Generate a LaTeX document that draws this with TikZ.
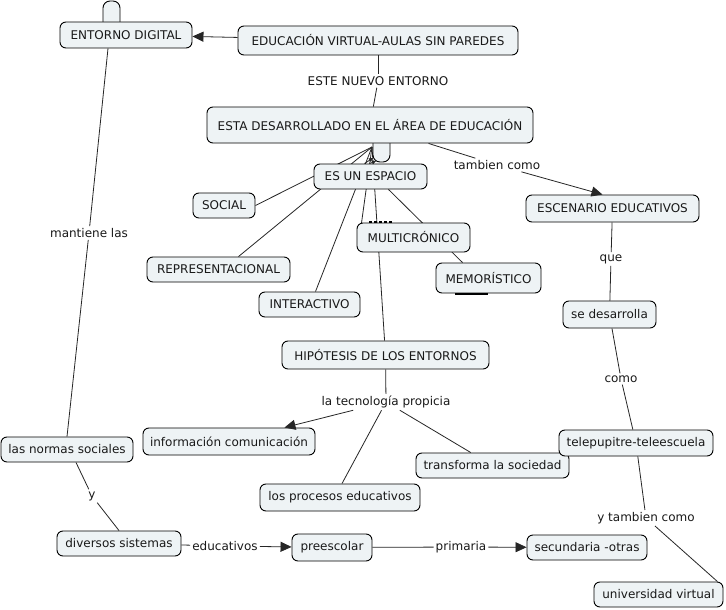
\documentclass[tikz,border=0pt]{standalone}
\usepackage{fontspec}
\setmainfont{DejaVu Sans}
\usetikzlibrary{arrows.meta}
\definecolor{boxfill}{RGB}{238,243,245}
\definecolor{txt}{RGB}{25,25,25}
\tikzset{
  concept/.style={draw=black, fill=boxfill, rounded corners=6pt, line width=0.9pt, inner sep=0pt, font=\fontsize{12}{14}\selectfont, text=txt},
  linkphr/.style={fill=white, inner xsep=2pt, inner ysep=2pt, font=\fontsize{12}{14}\selectfont, text=txt},
  conn/.style={draw=black!85, line width=0.8pt},
  arr/.style={conn, -{Triangle[length=11pt,width=10pt]}},
  smallarr/.style={conn, -{Triangle[length=4pt,width=4pt]}},
  tabshape/.style={draw=black, fill=boxfill, line width=0.9pt},
}
\begin{document}
\begin{tikzpicture}[x=1pt,y=-1pt]
\useasboundingbox (0,0) rectangle (726,610);
\fill[white] (0,0) rectangle (726,610);

% tabs (drawn under the boxes)
\draw[tabshape, rounded corners=7pt] (103,30) -- (103,1) -- (120,1) -- (120,30);
\coordinate (hub) at (372,147);
\coordinate (multitop) at (361.5,223);
\coordinate (tabin1) at (373,158);
\coordinate (tabin2) at (376,161);

% concept boxes
\node[concept, minimum width=132pt, minimum height=26pt] (ent) at (126,35) {ENTORNO DIGITAL};
\node[concept, minimum width=280pt, minimum height=29pt] (edu) at (378,40.5) {EDUCACIÓN VIRTUAL-AULAS SIN PAREDES};
\node[concept, minimum width=173pt, minimum height=27pt] (escen) at (612.5,208.5) {ESCENARIO EDUCATIVOS};
\node[concept, minimum width=62pt, minimum height=25pt] (social) at (224,205.5) {SOCIAL};
\node[concept, minimum width=143pt, minimum height=25pt] (repr) at (218.5,269.5) {REPRESENTACIONAL};
\node[concept, minimum width=101pt, minimum height=25pt] (inter) at (309.5,304.5) {INTERACTIVO};
\node[concept, minimum width=105pt, minimum height=30pt] (memo) at (488.5,278) {MEMORÍSTICO};
\node[concept, minimum width=207pt, minimum height=28pt] (hipo) at (385.5,355) {HIPÓTESIS DE LOS ENTORNOS};
\node[concept, minimum width=172pt, minimum height=27pt] (info) at (229,441.5) {información comunicación};
\node[concept, minimum width=153pt, minimum height=25pt] (transf) at (492.5,465.5) {transforma la sociedad};
\node[concept, minimum width=160pt, minimum height=27pt] (proc) at (340,497.5) {los procesos educativos};
\node[concept, minimum width=93pt, minimum height=27pt] (desarr) at (609.5,314.5) {se desarrolla};
\node[concept, minimum width=154pt, minimum height=26pt] (tele) at (636,443) {telepupitre-teleescuela};
\node[concept, minimum width=129pt, minimum height=25pt] (univ) at (658.5,594.5) {universidad virtual};
\node[concept, minimum width=120pt, minimum height=25pt] (secu) at (587,547.5) {secundaria -otras};
\node[concept, minimum width=80pt, minimum height=27pt] (pree) at (332,547.5) {preescolar};
\node[concept, minimum width=124pt, minimum height=25pt] (div) at (119,543.5) {diversos sistemas};
\node[concept, minimum width=132pt, minimum height=25pt] (normas) at (67,449.5) {las normas sociales};

% linking phrases
\node[linkphr] (este) at (378,81) {ESTE NUEVO ENTORNO};
\node[linkphr] (tamb) at (497,165) {tambien como};
\node[linkphr] (que) at (611,259) {que};
\node[linkphr] (como) at (621,379) {como};
\node[linkphr] (ytamb) at (646,518) {y tambien como};
\node[linkphr] (prim) at (461,547) {primaria};
\node[linkphr] (educ) at (225,546) {educativos};
\node[linkphr] (yy) at (92,496) {y};
\node[linkphr] (mant) at (89,233) {mantiene las};
\node[linkphr] (tecno) at (386,402) {la tecnología propicia};

% hub connectors (under the boxes drawn later)
\draw[conn] (hub) -- (social.east);
\draw[conn] (hub) -- ([xshift=20pt]repr.north);
\draw[conn] (hub) -- ([xshift=6pt]inter.north);
\draw[conn] (hub) -- (hipo);
\draw[conn] (hub) -- (multitop);

% tab below ESTA
\draw[tabshape, rounded corners=7pt] (373,130) -- (373,162) -- (390,162) -- (390,130);
\node[concept, minimum width=326pt, minimum height=36pt] (esta) at (370,125) {ESTA DESARROLLADO EN EL ÁREA DE EDUCACIÓN};
\node[concept, minimum width=113pt, minimum height=25pt] (esp) at (370.5,176.5) {ES UN ESPACIO};
\draw[smallarr] ([xshift=-6pt]esp.north) -- (tabin1);
\draw[smallarr] ([xshift=-1pt]esp.north) -- (tabin2);
\draw[conn] ([xshift=18pt]esp.south) -- ([xshift=-26pt]memo.north);
\node[concept, minimum width=113pt, minimum height=29pt] (multi) at (413.5,237.5) {MULTICRÓNICO};
\draw[black, line width=1.2pt, dash pattern=on 3pt off 2pt] (369,222) -- (392,222);
\draw[black, line width=1.8pt] (455,294) -- (488,294);

% connectors
\draw[arr] (edu) -- (ent);
\draw[conn] (edu) -- (este);
\draw[conn] (este) -- (esta);
\draw[conn] (esta) -- (tamb);
\draw[arr] (tamb) -- ([xshift=-10pt]escen.north);
\draw[conn] (escen) -- (que);
\draw[conn] (que) -- (desarr);
\draw[conn] (desarr) -- (como);
\draw[conn] (como) -- (tele);
\draw[conn] (tele) -- (ytamb);
\draw[conn] (ytamb) -- ([xshift=-6pt]univ.north east);
\draw[conn] ([xshift=-18pt]ent.south) -- (mant);
\draw[conn] (mant) -- (normas.north);
\draw[conn] ([xshift=9pt]normas.south) -- (yy);
\draw[conn] (yy) -- (div.north);
\draw[conn] (div) -- (educ);
\draw[arr] (educ) -- (pree);
\draw[conn] (pree) -- (prim);
\draw[arr] (prim) -- (secu);
\draw[conn] (hipo) -- (tecno);
\draw[arr] (tecno) -- (info);
\draw[conn] (tecno) -- ([xshift=2pt]proc.north);
\draw[conn] (tecno) -- (transf);
\end{tikzpicture}
\end{document}
